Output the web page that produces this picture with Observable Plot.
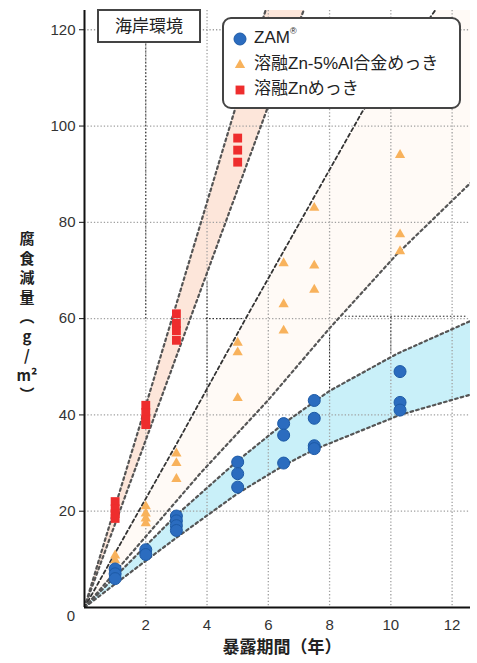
<!DOCTYPE html>
<html>
<head>
<meta charset="utf-8">
<script src="https://cdn.jsdelivr.net/npm/d3@7"></script>
<script src="https://cdn.jsdelivr.net/npm/@observablehq/plot@0.6"></script>
<style>
  body { margin: 0; background: #fff; }
  #chart { width: 477px; height: 663px; }
</style>
</head>
<body>
<div id="chart"></div>
<script>
// ---- tick labels / text ----
const xTicks = [2, 4, 6, 8, 10, 12];
const yTicks = [20, 40, 60, 80, 100, 120];
const xTitle = "暴露期間（年）";
const yTitleChars = ["腐", "食", "減", "量", "︵", "g", "/", "m²", "︶"];
const envLabel = "海岸環境";
const seriesNames = ["ZAM", "溶融Zn-5%Al合金めっき", "溶融Znめっき"];

// ---- measured points (years, g/m²) ----
const zamYear = [1, 1, 1, 2, 2, 3, 3, 3, 3, 5, 5, 5, 6.5, 6.5, 6.5, 7.5, 7.5, 7.5, 7.5, 10.3, 10.3, 10.3];
const zamLoss = [8, 7, 6, 12, 11, 19, 18, 17, 16, 30.2, 27.8, 25, 38.2, 35.8, 30, 43, 39.3, 33.6, 33, 49, 42.6, 41];

const znalYear = [1, 1, 2, 2, 2, 2, 3, 3, 3, 5, 5, 5, 6.5, 6.5, 6.5, 7.5, 7.5, 7.5, 10.3, 10.3, 10.3];
const znalLoss = [10.8, 9.8, 21, 19.5, 18.5, 17.5, 32, 30, 26.7, 55, 53, 43.5, 71.5, 63, 57.5, 83, 71, 66, 94, 77.5, 74];

const znYear = [1, 1, 1, 1, 2, 2, 2, 2, 3, 3, 3, 3, 5, 5, 5];
const znLoss = [22, 20.5, 19.5, 18.5, 42, 40.5, 39, 38, 61, 59, 57.5, 55.5, 97.5, 95, 92.5];

// ---- band boundary curves ----
const znUpT = [0, 1.72, 3.14, 4.88, 6.2];
const znUpV = [0, 36, 66, 102.8, 130];
const znLoT = [0, 3.14, 5.92, 7.5];
const znLoV = [0, 54.6, 102.8, 130];

const znalUpT = [0, 3.14, 5.26, 7.49, 9.07, 11.5, 12.1];
const znalUpV = [0, 35.5, 60, 85.2, 103, 124.5, 130];
const znalLoT = [0, 3.8, 6, 8, 10.2, 12.7];
const znalLoV = [0, 28, 43.1, 58, 73.4, 88.8];

const zamUpT = [0, 1, 2, 3, 5, 6.5, 8, 10.2, 12.7];
const zamUpV = [0, 6.4, 12.8, 19.2, 30.5, 38.2, 45, 52.7, 59.8];
const zamLoT = [0, 1, 2, 3, 5, 6.5, 7.5, 10.3, 12.7];
const zamLoV = [0, 4.9, 9.7, 14.5, 23.7, 29.5, 32.8, 40, 44.4];

// leftover black construction guides in the original figure
const guideX1 = [2, 4, 3.95, 8.5, 10, 8];
const guideY1 = [60, 44, 60, 60.5, 52.8, 45.5];
const guideX2 = [2, 4, 5.2, 12.5, 10, 8];
const guideY2 = [124, 68, 60, 60.5, 60.5, 57];

const xDomain = [0, 12.6];
const yDomain = [0, 124];

// colors
const cZam = "#2b6cbf", cZnal = "#f8b25c", cZn = "#ee2d2d";

// ---- build tables ----
const pts = (xs, ys) => xs.map((x, i) => ({x, y: ys[i]}));
const zamUp = pts(zamUpT, zamUpV), zamLo = pts(zamLoT, zamLoV);
const znalUp = pts(znalUpT, znalUpV), znalLo = pts(znalLoT, znalLoV);
const znUp = pts(znUpT, znUpV), znLo = pts(znLoT, znLoV);
const poly = (a, b, extra = []) => a.concat(extra, b.slice().reverse());

const zamBand = poly(zamUp, zamLo);
const znBand = poly(znUp, znLo);
const znalBand = poly(znalUp, znalLo, [{x: xDomain[1] + 1, y: yDomain[1] + 6}]);

const zamPts = pts(zamYear, zamLoss);
const znalPts = pts(znalYear, znalLoss);
const znPts = pts(znYear, znLoss);
const guides = guideX1.map((x, i) => ({x1: x, y1: guideY1[i], x2: guideX2[i], y2: guideY2[i]}));

const dashed = {x: "x", y: "y", stroke: "#555", strokeWidth: 2.2, strokeDasharray: "2.6,3.2", strokeLinecap: "round", clip: true};

const chart = Plot.plot({
  width: 477,
  height: 663,
  marginLeft: 84,
  marginRight: 7,
  marginTop: 10,
  marginBottom: 56,
  x: {domain: xDomain},
  y: {domain: yDomain},
  style: {fontFamily: "'Liberation Sans', Arial, sans-serif", fontSize: "15px", color: "#333", background: "#fff"},
  marks: [
    Plot.line(znalBand, {x: "x", y: "y", fill: "#fffaf6", stroke: "none", clip: true}),
    Plot.line(znBand, {x: "x", y: "y", fill: "#fde6da", stroke: "none", clip: true}),
    Plot.line(zamBand, {x: "x", y: "y", fill: "#c9f0f9", stroke: "none", clip: true}),
    Plot.ruleX(xTicks, {stroke: "#a0a0a0", strokeWidth: 1.3, strokeDasharray: "1.3,2"}),
    Plot.ruleY(yTicks, {stroke: "#a0a0a0", strokeWidth: 1.3, strokeDasharray: "1.3,2"}),
    Plot.link(guides, {x1: "x1", y1: "y1", x2: "x2", y2: "y2", stroke: "#222", strokeWidth: 1, strokeDasharray: "1.5,2"}),
    Plot.line(znUp, dashed),
    Plot.line(znLo, dashed),
    Plot.line(znalUp, {...dashed, stroke: "#333", strokeWidth: 1.8, strokeDasharray: "3.5,3"}),
    Plot.line(znalLo, dashed),
    Plot.line(zamUp, dashed),
    Plot.line(zamLo, dashed),
    Plot.dot(znalPts, {x: "x", y: "y", symbol: "triangle", r: 3.8, fill: cZnal, stroke: "none"}),
    Plot.dot(zamPts, {x: "x", y: "y", r: 6, fill: cZam, stroke: "#1d5aa6", strokeWidth: 1}),
    Plot.dot(znPts, {x: "x", y: "y", symbol: "square", r: 5, fill: cZn, stroke: "none"}),
    Plot.ruleX([0], {stroke: "#111", strokeWidth: 2}),
    Plot.ruleY([0], {stroke: "#111", strokeWidth: 2}),
    Plot.axisY(yTicks, {anchor: "left", tickSize: 5, tickPadding: 4, fontSize: 15, label: null, stroke: "#111"}),
    Plot.axisX(xTicks, {anchor: "bottom", tickSize: 0, tickPadding: 12, fontSize: 15, label: null})
  ]
});

document.getElementById("chart").appendChild(chart);

// ---- overlays: environment box, legend, axis titles ----
const svg = d3.select(chart);
const cjk = "'Noto Sans CJK JP', 'Noto Sans', sans-serif";

// "0" corner label
svg.append("text").attr("x", 75).attr("y", 617).attr("text-anchor", "end")
  .attr("dominant-baseline", "middle").attr("font-size", 15).attr("fill", "#333")
  .attr("font-family", "'Liberation Sans', Arial, sans-serif").text("0");

// environment box
svg.append("rect").attr("x", 98).attr("y", 10).attr("width", 102).attr("height", 32)
  .attr("fill", "#fff").attr("stroke", "#444").attr("stroke-width", 2);
svg.append("text").attr("x", 149).attr("y", 27).attr("text-anchor", "middle")
  .attr("dominant-baseline", "middle").attr("font-size", 17).attr("fill", "#222")
  .attr("font-family", cjk).text(envLabel);

// legend
svg.append("rect").attr("x", 223).attr("y", 18).attr("width", 237).attr("height", 90)
  .attr("rx", 8).attr("fill", "#fff").attr("stroke", "#444").attr("stroke-width", 2);
const rows = [
  {y: 39, sym: d3.symbolCircle, size: Math.PI * 36, fill: cZam, stroke: "#1d5aa6"},
  {y: 65, sym: d3.symbolTriangle, size: Math.PI * 3.8 * 3.8, fill: cZnal, stroke: "none"},
  {y: 90, sym: d3.symbolSquare, size: Math.PI * 25, fill: cZn, stroke: "none"}
];
rows.forEach((r, i) => {
  svg.append("path").attr("transform", `translate(240,${r.y})`)
    .attr("d", d3.symbol(r.sym, r.size)()).attr("fill", r.fill).attr("stroke", r.stroke);
  const t = svg.append("text").attr("x", 254).attr("y", r.y).attr("text-anchor", "start")
    .attr("dominant-baseline", "middle")
    .attr("font-size", 17).attr("fill", "#222").attr("font-family", "'Liberation Sans', " + cjk)
    .text(seriesNames[i]);
  if (i === 0) {
    t.append("tspan").attr("font-size", 9).attr("dy", -7).text("®");
  }
});

// y title (vertical, one glyph per line, single text element)
const yTitle = svg.append("text").attr("text-anchor", "middle")
  .attr("dominant-baseline", "middle").attr("font-size", 15).attr("font-weight", "bold")
  .attr("fill", "#222").attr("font-family", cjk);
yTitleChars.forEach((c, i) => {
  yTitle.append("tspan").attr("x", 27).attr("y", 240 + i * 19.5).text(c);
});

// x title
svg.append("text").attr("x", 282).attr("y", 648).attr("text-anchor", "middle")
  .attr("dominant-baseline", "middle").attr("font-size", 17).attr("font-weight", "bold")
  .attr("fill", "#222").attr("font-family", cjk).text(xTitle);
</script>
</body>
</html>
